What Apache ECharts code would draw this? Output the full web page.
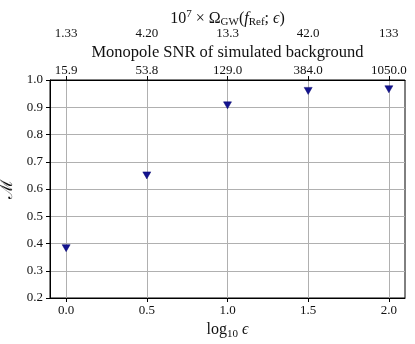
<!DOCTYPE html>
<html>
<head>
<meta charset="utf-8">
<script src="https://cdn.jsdelivr.net/npm/echarts@6/dist/echarts.min.js"></script>
<style>html,body{margin:0;padding:0;background:#fff}#c{width:415px;height:344px}</style>
</head>
<body>
<div id="c"></div>
<script>
const logEps = [0.0, 0.5, 1.0, 1.5, 2.0];
const overlap = [0.383, 0.650, 0.907, 0.960, 0.966];
const xTicks = [0.0, 0.5, 1.0, 1.5, 2.0];
const xTickLabels = ['0.0', '0.5', '1.0', '1.5', '2.0'];
const snrLabels = ['15.9', '53.8', '129.0', '384.0', '1050.0'];
const omegaLabels = ['1.33', '4.20', '13.3', '42.0', '133'];

const NUM_FONT = 'Liberation Serif';
const TXT_FONT = 'Liberation Serif';
const INK = '#111';
function labelFor(arr) {
  return function (v) {
    for (let i = 0; i < xTicks.length; i++) {
      if (Math.abs(v - xTicks[i]) < 1e-6) return arr[i];
    }
    return '';
  };
}
const grid = '#b0b0b0';
const chart = echarts.init(document.getElementById('c'));
chart.setOption({
  animation: false,
  grid: {left: 50, right: 10, top: 80, bottom: 46, containLabel: false, outerBoundsMode: 'none',
         show: true, borderColor: '#000', borderWidth: 1, backgroundColor: 'transparent'},
  xAxis: [
    {
      type: 'value', position: 'bottom', min: -0.1, max: 2.1,
      axisLine: {onZero: false, lineStyle: {color: '#000', width: 1}},
      axisTick: {show: true, length: 4, lineStyle: {color: '#000'}, customValues: xTicks},
      axisLabel: {color: INK, fontFamily: NUM_FONT, fontSize: 13, margin: 6, customValues: xTicks, formatter: labelFor(xTickLabels)},
      splitLine: {show: true, lineStyle: {color: grid, width: 1}},
      name: '{t|log}{s|10}{t| }{i|ϵ}', nameLocation: 'middle', nameGap: 21,
      nameTextStyle: {
        rich: {
          t: {fontFamily: TXT_FONT, fontSize: 16, color: INK},
          s: {fontFamily: TXT_FONT, fontSize: 11, color: INK, padding: [8, 0, 0, 0]},
          i: {fontFamily: TXT_FONT, fontSize: 16, color: INK, fontStyle: 'italic'}
        }
      }
    },
    {
      type: 'value', position: 'top', min: -0.1, max: 2.1,
      axisLine: {onZero: false, lineStyle: {color: '#000', width: 1}},
      axisTick: {show: true, length: 4, lineStyle: {color: '#000'}, customValues: xTicks},
      axisLabel: {color: INK, fontFamily: NUM_FONT, fontSize: 13, margin: 3, customValues: xTicks, formatter: labelFor(snrLabels)},
      splitLine: {show: false},
      name: 'Monopole SNR of simulated background', nameLocation: 'middle', nameGap: 19, nameMoveOverlap: false,
      nameTextStyle: {fontFamily: TXT_FONT, fontSize: 16.5, color: INK}
    },
    {
      type: 'value', position: 'top', offset: 37, min: -0.1, max: 2.1,
      axisLine: {show: false, onZero: false},
      axisTick: {show: false},
      axisLabel: {color: INK, fontFamily: NUM_FONT, fontSize: 13, margin: 3, customValues: xTicks, formatter: labelFor(omegaLabels)},
      splitLine: {show: false},
      name: '{t|10}{p|7}{t| × Ω}{s|GW}{t|(}{i|f}{s|Ref}{t|; }{i|ϵ}{t|)}', nameLocation: 'middle', nameGap: 15, nameMoveOverlap: false,
      nameTextStyle: {
        rich: {
          t: {fontFamily: TXT_FONT, fontSize: 16, color: INK},
          p: {fontFamily: TXT_FONT, fontSize: 11, color: INK, padding: [0, 0, 8, 0]},
          s: {fontFamily: TXT_FONT, fontSize: 11, color: INK, padding: [8, 0, 0, 0]},
          i: {fontFamily: TXT_FONT, fontSize: 16, color: INK, fontStyle: 'italic'}
        }
      }
    }
  ],
  yAxis: {
    type: 'value', min: 0.2, max: 1.0, interval: 0.1,
    axisLine: {show: true, onZero: false, lineStyle: {color: '#000', width: 1}},
    axisTick: {show: true, length: 4, lineStyle: {color: '#000'}},
    axisLabel: {color: INK, fontFamily: NUM_FONT, fontSize: 13, margin: 7, formatter: v => v.toFixed(1)},
    splitLine: {show: true, lineStyle: {color: grid, width: 1}},
    name: 'ℳ', nameLocation: 'middle', nameGap: 27, nameRotate: 90,
    nameTextStyle: {fontFamily: 'DejaVu Serif', fontSize: 17, color: INK}
  },
  series: [{
    type: 'scatter', xAxisIndex: 0,
    data: logEps.map((x, i) => [x, overlap[i]]),
    symbol: 'triangle', symbolRotate: 180, symbolSize: [8, 7],
    itemStyle: {color: '#13138f', borderColor: '#0a0a70', borderWidth: 0.5, opacity: 1}
  }]
});
</script>
</body>
</html>
